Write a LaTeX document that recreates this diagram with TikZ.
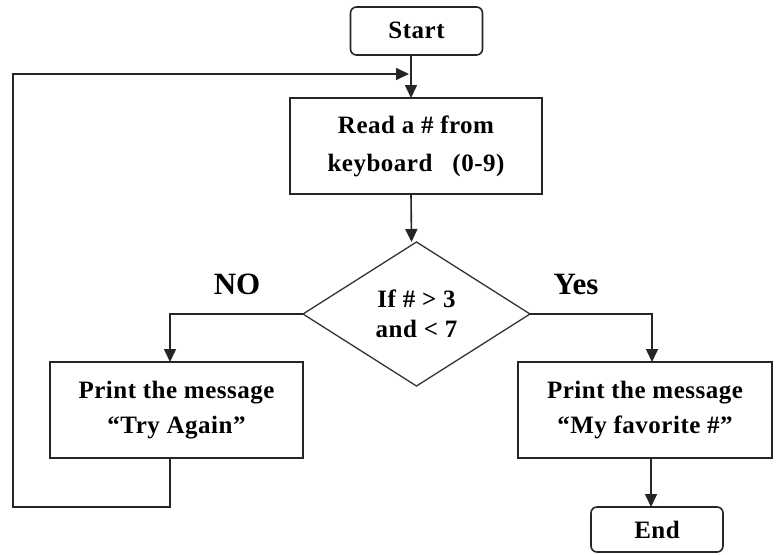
\documentclass[tikz,border=0pt]{standalone}
\usepackage{fontspec}
\setmainfont{Liberation Serif}
\newfontfamily\boxfont{Liberation Serif}[LetterSpace=2]
\usetikzlibrary{shapes.geometric,arrows.meta}
\begin{document}
\begin{tikzpicture}[x=1pt,y=-1pt,
  every node/.style={inner sep=0pt,outer sep=0pt},
  linecol/.style={draw=black!85,line width=1.6pt},
  procbox/.style={linecol,rectangle,align=center,font=\boxfont\bfseries\fontsize{25}{35}\selectfont},
  termbox/.style={linecol,rectangle,rounded corners=6pt,align=center,font=\boxfont\bfseries\fontsize{25}{28}\selectfont},
  decbox/.style={draw=black!80,line width=1.3pt,diamond,align=center,font=\boxfont\bfseries\fontsize{25}{30}\selectfont},
  lbl/.style={font=\bfseries\fontsize{31}{36}\selectfont},
  arr/.style={linecol,-{Triangle[width=12pt,length=13pt]}},
  conn/.style={linecol}]
\useasboundingbox (0,0) rectangle (778,554);
\fill[white] (0,0) rectangle (778,554);

\node[termbox,minimum width=132,minimum height=48,text depth=2pt] (start) at (416.5,31) {Start};
\node[procbox,minimum width=252,minimum height=96,font=\boxfont\bfseries\fontsize{25}{38}\selectfont] (read) at (416,146) {Read a \# from\\keyboard\hspace{20pt}(0-9)};
\node[decbox,minimum width=227,minimum height=144] (dec) at (416.5,314) {If \# > 3\\and < 7};
\node[procbox,minimum width=253,minimum height=96] (try) at (176.5,410) {Print the message\\“Try Again”};
\node[procbox,minimum width=254,minimum height=96] (fav) at (645,410) {Print the message\\“My favorite \#”};
\node[termbox,minimum width=132,minimum height=45] (end) at (657,529.5) {End};

\node[lbl] (no) at (237,284) {NO};
\node[lbl] (yes) at (576,284) {Yes};

\coordinate (lb) at (13,507);
\coordinate (lt) at (13,74);
\coordinate (lp) at (409,74);

\draw[arr] ([xshift=-5.5pt]start.south) -- ([xshift=-5pt]read.north);
\draw[arr] ([xshift=-5pt]read.south) -- ([xshift=-5pt]dec.north);
\draw[arr] (dec.west) -| ([xshift=-6.5pt]try.north);
\draw[arr] (dec.east) -| ([xshift=7pt]fav.north);
\draw[arr] ([xshift=6pt]fav.south) -- ([xshift=-6pt]end.north);
\draw[arr] ([xshift=-6.5pt]try.south) |- (lb) -- (lt) -- (lp);
\end{tikzpicture}
\end{document}
